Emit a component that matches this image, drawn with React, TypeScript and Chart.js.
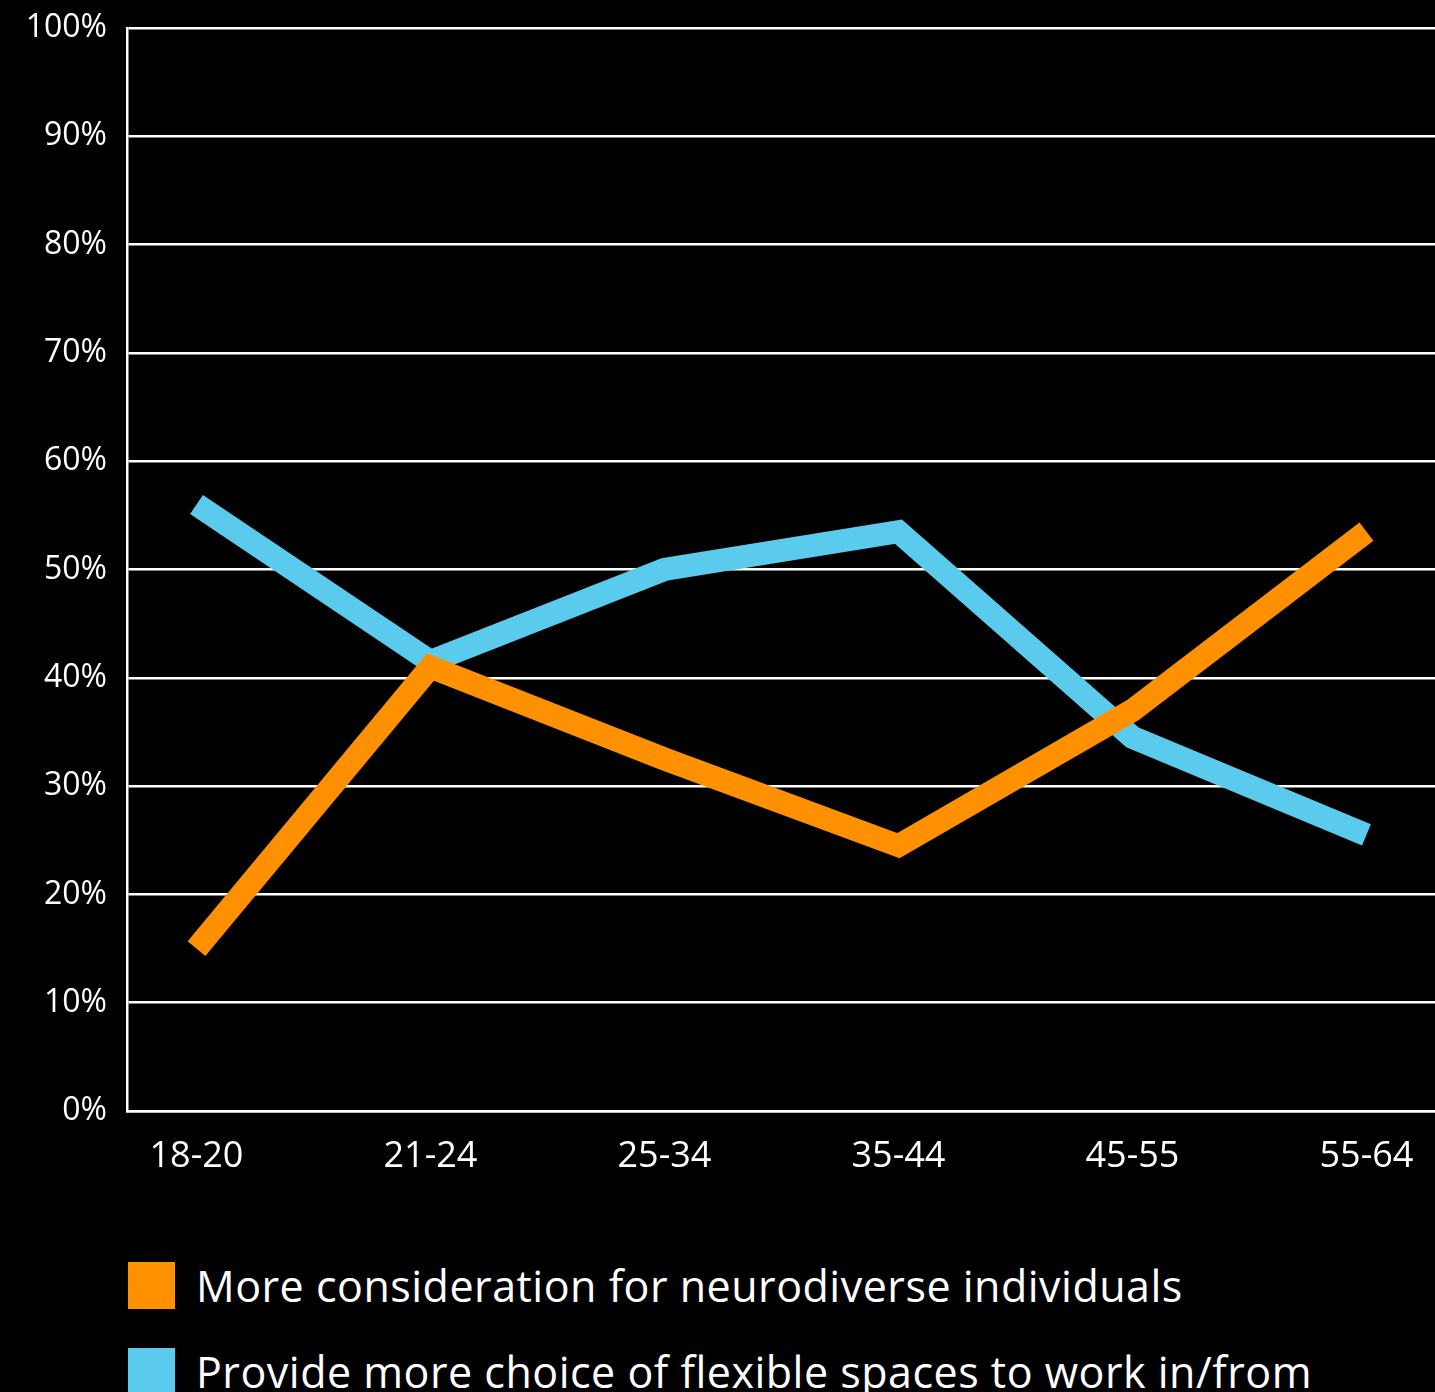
import React, { useEffect, useRef } from "react";
import { Chart, registerables } from "chart.js";

Chart.register(...registerables);

const categories = ["18-20", "21-24", "25-34", "35-44", "45-55", "55-64"];
const neurodiverse = [15, 41, 32.5, 24.5, 37, 53.5];
const flexibleSpaces = [56, 41.5, 50, 53.5, 34.5, 25.5];
const seriesNames = [
  "More consideration for neurodiverse individuals",
  "Provide more choice of flexible spaces to work in/from",
];
const seriesColors = ["#FF9000", "#5BCBED"];
const yTicks = [0, 10, 20, 30, 40, 50, 60, 70, 80, 90, 100];

const FONT = "'Open Sans', 'DejaVu Sans', sans-serif";

export default function App() {
  const canvasRef = useRef<HTMLCanvasElement | null>(null);

  useEffect(() => {
    const canvas = canvasRef.current;
    if (!canvas) return;
    const lineStyle = {
      borderWidth: 23,
      pointRadius: 0,
      borderJoinStyle: "miter" as const,
      borderCapStyle: "butt" as const,
      tension: 0,
    };
    const chart = new Chart(canvas, {
      type: "line",
      data: {
        datasets: [
          {
            label: seriesNames[0],
            data: neurodiverse.map((v, i) => ({ x: i, y: v })),
            borderColor: seriesColors[0],
            backgroundColor: seriesColors[0],
            ...lineStyle,
          },
          {
            label: seriesNames[1],
            data: flexibleSpaces.map((v, i) => ({ x: i, y: v })),
            borderColor: seriesColors[1],
            backgroundColor: seriesColors[1],
            ...lineStyle,
          },
        ],
      },
      options: {
        responsive: false,
        animation: false,
        maintainAspectRatio: false,
        layout: { padding: { top: 28, left: 0, right: 0, bottom: 0 } },
        plugins: {
          legend: { display: false },
          tooltip: { enabled: false },
        },
        scales: {
          x: {
            type: "linear",
            min: -0.297,
            max: 5.293,
            afterBuildTicks: (scale: any) => {
              scale.ticks = categories.map((_, i) => ({ value: i }));
            },
            afterFit: (scale: any) => {
              scale.height = 89;
              scale.paddingLeft = 0;
              scale.paddingRight = 0;
            },
            grid: { display: false, drawTicks: false },
            border: { display: true, color: "#ffffff", width: 2.5 },
            ticks: {
              color: "#ffffff",
              font: { family: FONT, size: 36 },
              padding: 24,
              maxRotation: 0,
              autoSkip: false,
              callback: (v: any) => categories[Number(v)] ?? "",
            },
          },
          y: {
            min: 0,
            max: 100,
            afterBuildTicks: (scale: any) => {
              scale.ticks = yTicks.map((v) => ({ value: v }));
            },
            afterFit: (scale: any) => {
              scale.width = 127;
              scale.paddingTop = 0;
              scale.paddingBottom = 0;
            },
            grid: { color: "#ffffff", lineWidth: 2.5, drawTicks: false },
            border: { display: true, color: "#ffffff", width: 2.5 },
            ticks: {
              color: "#ffffff",
              font: { family: FONT, size: 32 },
              padding: 20,
              callback: (v: any) => v + "%",
            },
          },
        },
      },
    });
    return () => chart.destroy();
  }, []);

  return (
    <div
      style={{
        position: "absolute",
        left: 0,
        top: 0,
        width: 1435,
        height: 1392,
        background: "#000",
        overflow: "hidden",
        fontFamily: FONT,
      }}
    >
      <canvas
        ref={canvasRef}
        width={1435}
        height={1200}
        style={{ position: "absolute", left: 0, top: 0, width: 1435, height: 1200 }}
      />
      {seriesNames.map((name, i) => (
        <div
          key={name}
          style={{
            position: "absolute",
            left: 128,
            top: 1262 + i * 86,
            height: 47,
            display: "flex",
            alignItems: "center",
            whiteSpace: "nowrap",
          }}
        >
          <span
            style={{
              display: "inline-block",
              width: 47,
              height: 47,
              background: seriesColors[i],
              marginRight: 21,
            }}
          />
          <span style={{ color: "#fff", fontSize: 43, lineHeight: "47px", letterSpacing: 0.5 }}>
            {name}
          </span>
        </div>
      ))}
    </div>
  );
}
